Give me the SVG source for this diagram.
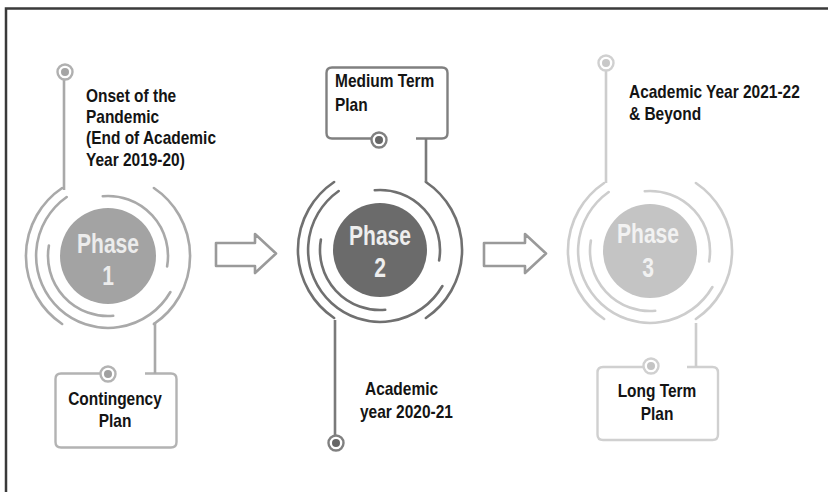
<svg xmlns="http://www.w3.org/2000/svg" width="828" height="492" viewBox="0 0 828 492">
<defs>
<style>
.t{font-family:"Liberation Sans","Open Sans",Arial,sans-serif;font-weight:bold;font-size:18px;fill:#141414}
.c{text-anchor:middle}
.ph{font-family:"Liberation Sans","Open Sans",Arial,sans-serif;font-weight:bold;font-size:27px;text-anchor:middle}
.ring{fill:none;stroke-width:2.6;stroke-linecap:round}
.box{fill:#fff;stroke-width:2.4}
.arrow{fill:#fff;stroke:#9a9a9a;stroke-width:2.6;stroke-linejoin:round}
</style>
<g id="rings">
<path d="M -45.9 -68 A 82 82 0 0 0 -45.9 68"/>
<path d="M 45.9 -68 A 82 82 0 0 1 45.9 68"/>
<path d="M 62.4 36 A 72 72 0 1 1 -41.3 -59"/>
<path d="M -5.2 -59.8 A 60 60 0 0 1 59.1 10.4"/>
<path d="M 5.2 59.8 A 60 60 0 0 1 -59.1 -10.4"/>
</g>
</defs>
<rect width="828" height="492" fill="#fff"/>
<path d="M 6 492 V 8.5 H 828" fill="none" stroke="#3a3a3a" stroke-width="2.5"/>

<g id="connectors">
<g class="arrow">
<path d="M 216 243 H 255 V 234 L 276 253.5 L 255 273 V 266 H 216 Z"/>
<path d="M 484 243 H 525 V 234 L 546 253.5 L 525 273 V 266 H 484 Z"/>
</g>
</g>

<g id="phase1">
<circle cx="108" cy="256" r="48" fill="#a3a3a3"/>
<use href="#rings" x="108" y="256" class="ring" stroke="#a9a9a9"/>
<text class="ph" transform="translate(108,253) scale(0.78,1)" fill="#ececec">Phase</text>
<text class="ph" transform="translate(108,285) scale(0.78,1)" fill="#ececec">1</text>
<path d="M 64 80 V 190" fill="none" stroke="#a9a9a9" stroke-width="2.6"/>
<circle cx="65" cy="72" r="7.5" fill="#fff" stroke="#b0b0b0" stroke-width="2.4"/>
<circle cx="65" cy="72" r="4" fill="#a5a5a5"/>
<text class="t" transform="translate(86,102) scale(0.86,1)">Onset of the</text>
<text class="t" transform="translate(86,123) scale(0.86,1)">Pandemic</text>
<text class="t" transform="translate(86,144) scale(0.86,1)">(End of Academic</text>
<text class="t" transform="translate(86,166) scale(0.86,1)">Year 2019-20)</text>
</g>

<g id="contingency">
<path class="box" stroke="#b3b3b3" d="M 100 373.5 H 61 Q 55.5 373.5 55.5 379 V 442 Q 55.5 447.5 61 447.5 H 171 Q 176.5 447.5 176.5 442 V 379 Q 176.5 373.5 171 373.5 H 145"/>
<path d="M 155 322 V 373.5" fill="none" stroke="#a9a9a9" stroke-width="2.6"/>
<circle cx="108" cy="374" r="7.5" fill="#fff" stroke="#b3b3b3" stroke-width="2.4"/>
<circle cx="108" cy="374" r="4" fill="#a0a0a0"/>
<text class="t c" transform="translate(115,405) scale(0.86,1)">Contingency</text>
<text class="t c" transform="translate(115,427) scale(0.86,1)">Plan</text>
</g>

<g id="phase2">
<circle cx="380" cy="250" r="47" fill="#6b6b6b"/>
<use href="#rings" x="380" y="250" class="ring" stroke="#707070"/>
<text class="ph" transform="translate(380,245) scale(0.78,1)" fill="#eeeeee">Phase</text>
<text class="ph" transform="translate(380,277) scale(0.78,1)" fill="#eeeeee">2</text>
<path d="M 335 320 V 435" fill="none" stroke="#7a7a7a" stroke-width="2.6"/>
<circle cx="336" cy="443" r="7.5" fill="#fff" stroke="#808080" stroke-width="2.4"/>
<circle cx="336" cy="443" r="4" fill="#666"/>
<text class="t" transform="translate(365,395) scale(0.86,1)">Academic</text>
<text class="t" transform="translate(360,418) scale(0.86,1)">year 2020-21</text>
</g>

<g id="medium">
<path class="box" stroke="#808080" d="M 371 138.5 H 332 Q 326.5 138.5 326.5 133 V 73 Q 326.5 67.5 332 67.5 H 442 Q 447.5 67.5 447.5 73 V 133 Q 447.5 138.5 442 138.5 H 416"/>
<path d="M 426 138.5 V 182" fill="none" stroke="#7a7a7a" stroke-width="2.6"/>
<circle cx="379" cy="140" r="7.5" fill="#fff" stroke="#808080" stroke-width="2.4"/>
<circle cx="379" cy="140" r="4" fill="#666"/>
<text class="t" transform="translate(335,87) scale(0.86,1)">Medium Term</text>
<text class="t" transform="translate(335,111) scale(0.86,1)">Plan</text>
</g>

<g id="phase3">
<circle cx="650" cy="251" r="47" fill="#c4c4c4"/>
<use href="#rings" x="650" y="251" class="ring" stroke="#cdcdcd"/>
<text class="ph" transform="translate(648,243) scale(0.78,1)" fill="#f2f2f2">Phase</text>
<text class="ph" transform="translate(648,277) scale(0.78,1)" fill="#f2f2f2">3</text>
<path d="M 606 71 V 183" fill="none" stroke="#cdcdcd" stroke-width="2.6"/>
<circle cx="606" cy="63" r="7.5" fill="#fff" stroke="#d0d0d0" stroke-width="2.4"/>
<circle cx="606" cy="63" r="4" fill="#c8c8c8"/>
<text class="t" transform="translate(629,98) scale(0.86,1)">Academic Year 2021-22</text>
<text class="t" transform="translate(629,120) scale(0.86,1)">&amp; Beyond</text>
</g>

<g id="longterm">
<path class="box" stroke="#d0d0d0" d="M 643 367 H 603 Q 597.5 367 597.5 372.5 V 434.5 Q 597.5 440 603 440 H 712.5 Q 718 440 718 434.5 V 372.5 Q 718 367 712.5 367 H 687"/>
<path d="M 696 323 V 367" fill="none" stroke="#cdcdcd" stroke-width="2.6"/>
<circle cx="651" cy="366" r="7.5" fill="#fff" stroke="#d0d0d0" stroke-width="2.4"/>
<circle cx="651" cy="366" r="4" fill="#c4c4c4"/>
<text class="t c" transform="translate(657,397) scale(0.86,1)">Long Term</text>
<text class="t c" transform="translate(657,420) scale(0.86,1)">Plan</text>
</g>
</svg>
